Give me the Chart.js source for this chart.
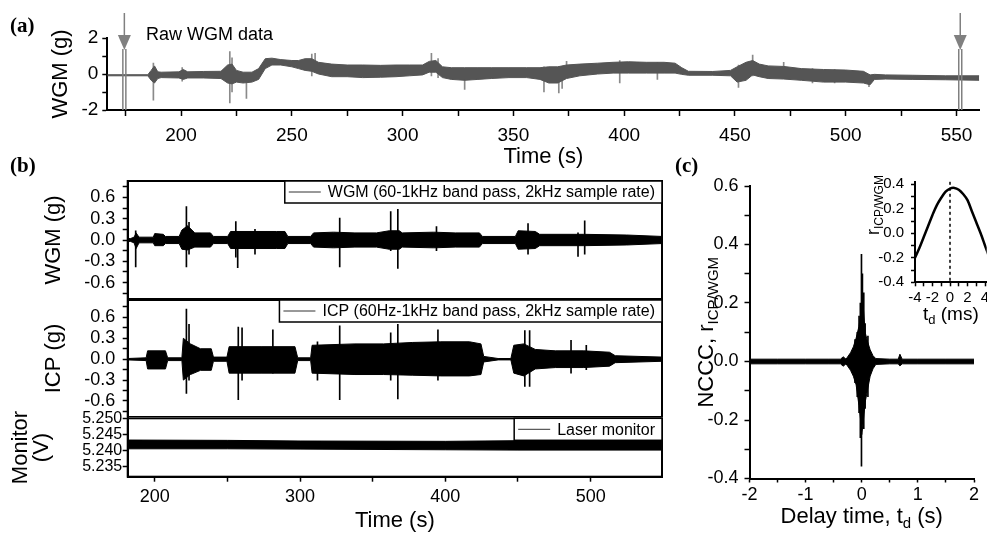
<!DOCTYPE html>
<html>
<head>
<meta charset="utf-8">
<script src="https://cdn.jsdelivr.net/npm/chart.js@4.4.1/dist/chart.umd.min.js"></script>
<style>
  html, body { margin: 0; padding: 0; background: #fff; width: 987px; height: 536px; overflow: hidden; }
  canvas { position: absolute; }
  .tag { position: absolute; font: bold 21px "Liberation Serif", "Times New Roman", serif; line-height: 21px; }
  #raw { position: absolute; left: 146px; top: 25px; font: 18px "Liberation Sans", Arial, sans-serif; line-height: 18px; }
</style>
</head>
<body>
<canvas id="ca" width="987" height="172" style="left:0;top:0"></canvas>
<canvas id="cb1" width="680" height="129" style="left:0;top:170px"></canvas>
<canvas id="cb2" width="680" height="118" style="left:0;top:299px"></canvas>
<canvas id="cb3" width="680" height="136" style="left:0;top:400px"></canvas>
<canvas id="cc" width="317" height="386" style="left:670px;top:150px"></canvas>
<canvas id="ci" width="140" height="175" style="left:860px;top:165px"></canvas>
<div class="tag" style="left:10px;top:15px">(a)</div>
<div class="tag" style="left:10px;top:155px">(b)</div>
<div class="tag" style="left:675px;top:155px">(c)</div>
<div id="raw">Raw WGM data</div>
<script>
// (a) raw WGM trace, envelope (time s, g)
const aT  = [166.7, 185, 186.5, 188, 189.5, 191, 199, 201, 203, 210, 218, 221, 223, 225, 228, 232, 235, 238, 241, 245, 250, 253, 256, 259, 262, 268, 275, 282, 290, 297, 303, 309, 312, 315, 318, 322, 328, 334, 340, 348, 356, 362, 366, 370, 374, 380, 388, 395, 402, 410, 418, 423, 426, 429, 440, 448, 451, 455, 458, 461, 465, 472, 480, 490, 500, 508, 511, 513, 518, 530, 545, 560.3];
const aHi = [-0.04, -0.04, 0.2, 0.45, 0.12, 0.1, 0.12, 0.25, 0.12, 0.14, 0.15, 0.5, 0.55, 0.2, 0.1, 0.1, 0.3, 0.85, 0.88, 0.8, 0.75, 0.75, 0.85, 0.85, 0.65, 0.55, 0.5, 0.5, 0.48, 0.5, 0.5, 0.5, 0.7, 0.75, 0.4, 0.35, 0.35, 0.35, 0.35, 0.35, 0.35, 0.35, 0.4, 0.4, 0.5, 0.55, 0.6, 0.65, 0.68, 0.65, 0.65, 0.6, 0.35, 0.15, 0.14, 0.2, 0.4, 0.65, 0.75, 0.55, 0.45, 0.42, 0.3, 0.25, 0.22, 0.15, -0.05, -0.02, -0.05, -0.07, -0.1, -0.1];
const aLo = [-0.1, -0.1, -0.35, -0.5, -0.25, -0.2, -0.22, -0.3, -0.22, -0.22, -0.25, -0.5, -0.55, -0.45, -0.5, -0.45, -0.3, 0.3, 0.5, 0.5, 0.4, 0.3, 0.2, 0.15, 0.0, -0.15, -0.15, -0.2, -0.18, -0.15, -0.1, -0.05, 0.1, 0.1, -0.2, -0.3, -0.35, -0.3, -0.25, -0.2, -0.2, -0.3, -0.5, -0.5, -0.25, -0.1, 0.0, 0.05, 0.05, 0.05, 0.05, 0.05, -0.02, -0.07, -0.07, -0.1, -0.45, -0.35, -0.05, -0.15, -0.25, -0.28, -0.35, -0.45, -0.45, -0.5, -0.6, -0.3, -0.28, -0.3, -0.32, -0.35];
const aSpikeT  = [187.5, 200.5, 222, 223, 229.5, 259, 260.5, 313, 316, 328, 363.8, 370.5, 372, 374, 398, 415, 451.6, 458, 472, 485, 495, 510.5];
const aSpikeLo = [-1.45, -0.4, -1.6, -1.0, -1.35, -0.1, 0.1, -0.1, -0.2, -0.85, -1.0, -1.05, -0.8, -0.2, -0.5, -0.3, -0.75, -0.1, -0.1, -0.5, -0.5, -0.7];
const aSpikeHi = [0.6, 0.35, 1.25, 0.9, 0, 1.1, 1.15, 1.15, 0.85, 0.3, 0.4, 0.4, 0.3, 0.7, 0.75, 0.65, 0.5, 1.05, 0.65, 0.3, 0.25, 0];
const aMarkT = [174.4, 551.7];
const aXMajor = [200, 250, 300, 350, 400, 450, 500, 550];
const aXMinor = [175, 225, 275, 325, 375, 425, 475, 525];
const aYMajor = [-2, 0, 2];
const aYMinor = [-1, 1];

// (b) filtered WGM, ICP and laser monitor
const bLegend = ['WGM (60-1kHz band pass, 2kHz sample rate)', 'ICP (60Hz-1kHz band pass, 2kHz sample rate)', 'Laser monitor'];
const bwT  = [181.4, 183.3, 185.8, 187.2, 189.2, 199.0, 200.0, 205.9, 207.4, 216.8, 218.7, 222.6, 227.6, 238.4, 240.4, 250.2, 252.2, 269.0, 283.7, 289.6, 291.6, 307.3, 309.3, 323.0, 337.8, 352.6, 361.4, 368.3, 370.3, 392.0, 406.8, 423.5, 425.5, 448.2, 450.1, 461.9, 464.9, 495.3, 524.8, 549.1];
const bwHi = [0.02, 0.02, 0.04, 0.1, 0.04, 0.04, 0.09, 0.08, 0.05, 0.05, 0.14, 0.2, 0.1, 0.1, 0.05, 0.05, 0.12, 0.12, 0.12, 0.12, 0.05, 0.05, 0.1, 0.11, 0.1, 0.1, 0.13, 0.13, 0.1, 0.11, 0.1, 0.1, 0.05, 0.05, 0.13, 0.12, 0.08, 0.08, 0.07, 0.05];
const bwLo = [-0.02, -0.02, -0.04, -0.12, -0.04, -0.04, -0.08, -0.08, -0.05, -0.05, -0.13, -0.14, -0.1, -0.1, -0.05, -0.05, -0.12, -0.12, -0.12, -0.12, -0.05, -0.05, -0.1, -0.11, -0.1, -0.1, -0.13, -0.13, -0.1, -0.11, -0.1, -0.1, -0.05, -0.05, -0.13, -0.12, -0.08, -0.08, -0.07, -0.05];
const bwSpikeT  = [186.9, 221.8, 223.6, 255.8, 257.1, 269.0, 327.3, 362.4, 367.3, 393.9, 456.9, 491.3, 495.9];
const bwSpikeLo = [-0.38, -0.38, -0.2, -0.24, -0.39, -0.2, -0.38, -0.15, -0.4, -0.15, -0.2, -0.23, -0.2];
const bwSpikeHi = [0.13, 0.47, 0.25, 0.26, 0.1, 0.15, 0.31, 0.4, 0.43, 0.19, 0.23, 0.1, 0.27];

const biT  = [181.4, 194.1, 195.1, 207.4, 208.9, 218.7, 219.7, 224.6, 231.5, 238.9, 240.4, 249.7, 251.2, 273.8, 296.5, 298.4, 307.3, 308.3, 337.8, 357.5, 377.2, 396.8, 416.6, 424.5, 426.4, 436.3, 445.1, 447.1, 454.0, 461.9, 475.7, 495.3, 513.0, 516.9, 549.1];
const biHi = [0.01, 0.02, 0.12, 0.12, 0.02, 0.02, 0.3, 0.22, 0.15, 0.15, 0.03, 0.03, 0.18, 0.18, 0.18, 0.02, 0.02, 0.2, 0.22, 0.22, 0.24, 0.25, 0.25, 0.22, 0.04, 0.01, 0.01, 0.2, 0.22, 0.14, 0.12, 0.12, 0.1, 0.05, 0.03];
const biLo = [-0.01, -0.02, -0.14, -0.14, -0.02, -0.02, -0.3, -0.22, -0.16, -0.16, -0.03, -0.03, -0.2, -0.2, -0.2, -0.02, -0.02, -0.2, -0.22, -0.22, -0.23, -0.24, -0.24, -0.22, -0.04, -0.01, -0.01, -0.2, -0.24, -0.14, -0.12, -0.12, -0.1, -0.05, -0.03];
const biSpikeT  = [221.8, 223.6, 257.5, 260.1, 281.3, 312.0, 327.3, 362.4, 367.3, 394.9, 454.7, 458.0, 486.5, 497.0];
const biSpikeLo = [-0.49, -0.3, -0.58, -0.3, -0.2, -0.3, -0.58, -0.3, -0.57, -0.3, -0.39, -0.39, -0.2, -0.15];
const biSpikeHi = [0.72, 0.5, 0.46, 0.45, 0.42, 0.25, 0.48, 0.38, 0.5, 0.42, 0.41, 0.41, 0.27, 0.2];

const bmT  = [181.4, 250, 300, 400, 450, 549.1];
const bmHi = [5.2433, 5.2432, 5.2430, 5.2429, 5.2431, 5.2432];
const bmLo = [5.2406, 5.2406, 5.2405, 5.2403, 5.2402, 5.2402];

const bXMajor = [200, 300, 400, 500];
const bXMinor = [250, 350, 450];
const bYMajor = [-0.6, -0.3, 0, 0.3, 0.6];
const bYMinor = [-0.75, -0.45, -0.15, 0.15, 0.45, 0.75];
const bmYMajor = [5.235, 5.240, 5.245, 5.250];

// (c) normalised cross-correlation ICP/WGM
const cT  = [-2, -1.5, -1, -0.6, -0.38, -0.33, -0.28, -0.2, -0.15, -0.1, -0.05, -0.02, 0, 0.03, 0.06, 0.1, 0.15, 0.2, 0.25, 0.5, 0.65, 0.68, 0.72, 1, 1.5, 2];
const cHi = [0.008, 0.008, 0.008, 0.008, 0.008, 0.016, 0.008, 0.03, 0.05, 0.08, 0.12, 0.16, 0.2, 0.18, 0.1, 0.07, 0.04, 0.02, 0.01, 0.008, 0.008, 0.025, 0.008, 0.008, 0.008, 0.008];
const cLo = [-0.008, -0.008, -0.008, -0.008, -0.008, -0.016, -0.008, -0.03, -0.05, -0.08, -0.15, -0.2, -0.25, -0.2, -0.14, -0.1, -0.05, -0.025, -0.01, -0.008, -0.008, -0.015, -0.008, -0.008, -0.008, -0.008];
const cSpikeT  = [-0.12, -0.08, -0.048, -0.025, -0.005, 0.012, 0.036, 0.06, 0.11];
const cSpikeLo = [-0.072, -0.12, -0.175, -0.26, -0.358, -0.2, -0.23, -0.16, -0.12];
const cSpikeHi = [0.075, 0.1, 0.155, 0.2, 0.366, 0.3, 0.235, 0.13, 0.087];
const cXMajor = [-2, -1, 0, 1, 2];
const cXMinor = [-1.5, -0.5, 0.5, 1.5];
const cYMajor = [-0.4, -0.2, 0, 0.2, 0.4, 0.6];
const cYMinor = [-0.3, -0.1, 0.1, 0.3, 0.5];

// (c) inset, zoom around zero lag (ms)
const iT = [-4, -3.5, -3, -2.5, -2, -1.5, -1, -0.5, 0, 0.5, 1, 1.5, 2, 2.5, 3, 3.5, 4, 4.4];
const iR = [-0.2, -0.12, -0.03, 0.06, 0.15, 0.23, 0.29, 0.34, 0.365, 0.37, 0.355, 0.32, 0.27, 0.18, 0.09, 0.0, -0.1, -0.18];
const iRefT = 0;
const iXMajor = [-4, -2, 0, 2, 4];
const iXMinor = [-3, -1, 1, 3];
const iYMajor = [-0.4, -0.2, 0, 0.2, 0.4];
const iYMinor = [-0.3, -0.1, 0.1, 0.3];

Chart.defaults.font.family = '"Liberation Sans", Arial, sans-serif';
Chart.defaults.color = '#000';
Chart.defaults.animation = false;
Chart.defaults.plugins.legend.display = false;
Chart.defaults.plugins.tooltip.enabled = false;

const pts = (xs, ys) => xs.map((x, i) => ({ x: x, y: ys[i] }));

function envelope(xs, lo, hi, color, label) {
  return [
    { type: 'line', label: label, data: pts(xs, hi), borderColor: color, borderWidth: 1, pointRadius: 0, fill: false },
    { type: 'line', data: pts(xs, lo), borderColor: color, borderWidth: 1, pointRadius: 0, fill: '-1', backgroundColor: color }
  ];
}

function spikes(xs, lo, hi, color) {
  return { type: 'bar', data: xs.map((x, i) => ({ x: x, y: [lo[i], hi[i]] })), backgroundColor: color, barThickness: 1, borderWidth: 0 };
}

function axis(min, max, major, minor, fmt, o) {
  const all = major.concat(minor).sort((p, q) => p - q);
  return {
    type: 'linear', min: min, max: max, offset: false, display: o.display !== false,
    afterBuildTicks: s => { s.ticks = all.map(v => ({ value: v })); },
    afterFit: s => {
      if (o.w !== undefined) s.width = o.w;
      if (o.h !== undefined) s.height = o.h;
      s.paddingTop = s.paddingBottom = s.paddingLeft = s.paddingRight = 0;
    },
    ticks: {
      autoSkip: false, maxRotation: 0, minRotation: 0, padding: o.pad, font: { size: o.fs },
      callback: v => major.some(m => Math.abs(m - v) < 1e-9) ? fmt(v) : ''
    },
    grid: { offset: false, drawOnChartArea: false, drawTicks: true, tickLength: o.tl, tickColor: '#000', tickWidth: 1.5 },
    border: { display: true, color: '#000', width: 2 },
    title: o.title ? { display: true, text: o.title, font: { size: 22, lineHeight: o.lh || 1.2 }, padding: o.tp } : { display: false }
  };
}

const framePlugin = {
  id: 'frame',
  afterDraw(chart) {
    const a = chart.chartArea, ctx = chart.ctx;
    ctx.save();
    ctx.strokeStyle = '#000';
    ctx.lineWidth = 2;
    ctx.strokeRect(a.left, a.top, a.right - a.left, a.bottom - a.top);
    ctx.restore();
  }
};

const boxLegend = {
  id: 'boxLegend',
  afterDraw(chart) {
    const text = chart.data.datasets[0].label;
    if (!text) return;
    const a = chart.chartArea, ctx = chart.ctx;
    ctx.save();
    ctx.font = '16px "Liberation Sans", Arial, sans-serif';
    const w = 43 + ctx.measureText(text).width + 7, h = 22;
    const x = a.right - w, y = a.top;
    ctx.fillStyle = '#fff';
    ctx.fillRect(x, y, w, h);
    ctx.strokeStyle = '#000';
    ctx.lineWidth = 1.5;
    ctx.strokeRect(x, y, w, h);
    ctx.strokeStyle = '#333';
    ctx.lineWidth = 1;
    ctx.beginPath();
    ctx.moveTo(x + 4, y + h / 2);
    ctx.lineTo(x + 36, y + h / 2);
    ctx.stroke();
    ctx.fillStyle = '#000';
    ctx.textBaseline = 'middle';
    ctx.fillText(text, x + 43, y + h / 2 + 1);
    ctx.restore();
  }
};

const arrowPlugin = {
  id: 'arrows',
  afterDatasetsDraw(chart, args, opts) {
    const ctx = chart.ctx, a = chart.chartArea, xs = chart.scales.x;
    ctx.save();
    ctx.strokeStyle = '#808080';
    ctx.fillStyle = '#808080';
    opts.times.forEach(t => {
      const x = xs.getPixelForValue(t);
      ctx.lineWidth = 1.5;
      ctx.beginPath();
      ctx.moveTo(x, 13); ctx.lineTo(x, 36);
      ctx.moveTo(x - 1.5, 49); ctx.lineTo(x - 1.5, a.bottom);
      ctx.moveTo(x + 1.5, 49); ctx.lineTo(x + 1.5, a.bottom);
      ctx.stroke();
      ctx.beginPath();
      ctx.moveTo(x - 6.5, 35); ctx.lineTo(x + 6.5, 35); ctx.lineTo(x, 50);
      ctx.closePath();
      ctx.fill();
    });
    ctx.restore();
  }
};

const refLine = {
  id: 'refLine',
  afterDatasetsDraw(chart, args, opts) {
    const ctx = chart.ctx, a = chart.chartArea;
    const x = chart.scales.x.getPixelForValue(opts.at);
    ctx.save();
    ctx.strokeStyle = '#000';
    ctx.lineWidth = 1.5;
    ctx.setLineDash([3, 3]);
    ctx.beginPath();
    ctx.moveTo(x, a.top);
    ctx.lineTo(x, a.bottom);
    ctx.stroke();
    ctx.restore();
  }
};

// axis titles with subscripts (and ones longer than their axis)
const subTitles = {
  id: 'subTitles',
  afterDraw(chart, args, opts) {
    const a = chart.chartArea, ctx = chart.ctx;
    opts.items.forEach(it => {
      const isY = it.axis === 'y';
      const cx = isY ? a.left + it.dx : (a.left + a.right) / 2;
      const cy = isY ? (a.top + a.bottom) / 2 + (it.dy || 0) : a.bottom + it.dy;
      const fontOf = p => (p.sub ? it.sub : it.size) + 'px "Liberation Sans", Arial, sans-serif';
      ctx.save();
      ctx.translate(cx, cy);
      if (isY) ctx.rotate(-Math.PI / 2);
      ctx.fillStyle = '#000';
      ctx.textBaseline = 'middle';
      ctx.textAlign = 'left';
      let w = 0;
      it.parts.forEach(p => { ctx.font = fontOf(p); w += ctx.measureText(p.t).width; });
      let x = -w / 2;
      it.parts.forEach(p => {
        ctx.font = fontOf(p);
        ctx.fillText(p.t, x, p.sub ? it.size * 0.32 : 0);
        x += ctx.measureText(p.t).width;
      });
      ctx.restore();
    });
  }
};

const int = v => String(v);
const f1 = v => v.toFixed(1);
const f3 = v => v.toFixed(3);

// (a)
new Chart(document.getElementById('ca'), {
  type: 'line',
  data: { datasets: [...envelope(aT, aLo, aHi, '#555555'), spikes(aSpikeT, aSpikeLo, aSpikeHi, '#8a8a8a')] },
  options: {
    responsive: false,
    layout: { padding: { top: 38, right: 7.7, left: 0, bottom: 0 } },
    scales: {
      x: axis(166.7, 560.3, aXMajor, aXMinor, int, { h: 62, tl: 6, pad: 8, fs: 19, title: 'Time (s)', tp: { top: 0, bottom: 1.8 } }),
      y: axis(-2, 2, aYMajor, aYMinor, int, { w: 107.3, tl: 5, pad: 4, fs: 19, title: 'WGM (g)', tp: { top: 47.8, bottom: 0 } })
    },
    plugins: { arrows: { times: aMarkT } }
  },
  plugins: [arrowPlugin]
});

// (b) three stacked panels sharing the time axis
const bX = { display: false, tl: 5, pad: 5, fs: 18 };
new Chart(document.getElementById('cb1'), {
  type: 'line',
  data: { datasets: [...envelope(bwT, bwLo, bwHi, '#000', bLegend[0]), spikes(bwSpikeT, bwSpikeLo, bwSpikeHi, '#000')] },
  options: {
    responsive: false,
    layout: { padding: { top: 11, right: 18, left: 0, bottom: 0 } },
    scales: {
      x: axis(181.4, 549.1, bXMajor, bXMinor, int, bX),
      y: axis(-0.83, 0.83, bYMajor, bYMinor, f1, { w: 127.7, tl: 5, pad: 7.5, fs: 18, title: 'WGM (g)', tp: { top: 40.8, bottom: 0 } })
    }
  },
  plugins: [framePlugin, boxLegend]
});

new Chart(document.getElementById('cb2'), {
  type: 'line',
  data: { datasets: [...envelope(biT, biLo, biHi, '#000', bLegend[1]), spikes(biSpikeT, biSpikeLo, biSpikeHi, '#000')] },
  options: {
    responsive: false,
    layout: { padding: { top: 1, right: 18, left: 0, bottom: 0 } },
    scales: {
      x: axis(181.4, 549.1, bXMajor, bXMinor, int, bX),
      y: axis(-0.83, 0.85, bYMajor, bYMinor, f1, { w: 127.7, tl: 5, pad: 7.5, fs: 18, title: 'ICP (g)', tp: { top: 40.8, bottom: 0 } })
    }
  },
  plugins: [framePlugin, boxLegend]
});

new Chart(document.getElementById('cb3'), {
  type: 'line',
  data: { datasets: envelope(bmT, bmLo, bmHi, '#000', bLegend[2]) },
  options: {
    responsive: false,
    layout: { padding: { top: 18.3, right: 18, left: 0, bottom: 0 } },
    scales: {
      x: axis(181.4, 549.1, bXMajor, bXMinor, int, { h: 59.3, tl: 5, pad: 5, fs: 18, title: 'Time (s)', tp: { top: 0, bottom: 1.8 } }),
      y: axis(5.232, 5.250, bmYMajor, [], f3, { w: 127.7, tl: 5, pad: 0.5, fs: 16 })
    },
    plugins: {
      subTitles: { items: [
        { axis: 'y', dx: -107.2, size: 22, sub: 15, parts: [{ t: 'Monitor' }] },
        { axis: 'y', dx: -85.7, size: 22, sub: 15, parts: [{ t: '(V)' }] }
      ] }
    }
  },
  plugins: [framePlugin, boxLegend, subTitles]
});

// (c) main
new Chart(document.getElementById('cc'), {
  type: 'line',
  data: { datasets: [...envelope(cT, cLo, cHi, '#000'), spikes(cSpikeT, cSpikeLo, cSpikeHi, '#000')] },
  options: {
    responsive: false,
    layout: { padding: { top: 36, right: 13, left: 0, bottom: 0 } },
    scales: {
      x: axis(-2, 2, cXMajor, cXMinor, int, { h: 57.5, tl: 4, pad: 2, fs: 18 }),
      y: axis(-0.4, 0.6, cYMajor, cYMinor, f1, { w: 79.5, tl: 5, pad: 6, fs: 18 })
    },
    plugins: {
      subTitles: { items: [
        { axis: 'y', dx: -42.5, size: 22, sub: 15, parts: [{ t: 'NCCC, r' }, { t: 'ICP/WGM', sub: true }] },
        { axis: 'x', dy: 38.5, size: 22, sub: 15, parts: [{ t: 'Delay time, t' }, { t: 'd', sub: true }, { t: ' (s)' }] }
      ] }
    }
  },
  plugins: [subTitles]
});

// (c) inset
new Chart(document.getElementById('ci'), {
  type: 'line',
  data: { datasets: [{ data: pts(iT, iR), borderColor: '#000', borderWidth: 2.5, pointRadius: 0, tension: 0.3, fill: false }] },
  options: {
    responsive: false,
    layout: { padding: { top: 16.8, right: 13.25, left: 0, bottom: 0 } },
    scales: {
      x: axis(-4, 4.2, iXMajor, iXMinor, int, { h: 57.7, tl: 4, pad: 3, fs: 15 }),
      y: axis(-0.4, 0.42, iYMajor, iYMinor, f1, { w: 55, tl: 4, pad: 7, fs: 15 })
    },
    plugins: {
      refLine: { at: iRefT },
      subTitles: { items: [
        { axis: 'y', dx: -41, dy: -27, size: 18, sub: 12, parts: [{ t: 'r' }, { t: 'ICP/WGM', sub: true }] },
        { axis: 'x', dy: 32, size: 19, sub: 13, parts: [{ t: 't' }, { t: 'd', sub: true }, { t: ' (ms)' }] }
      ] }
    }
  },
  plugins: [refLine, subTitles]
});
</script>
</body>
</html>
